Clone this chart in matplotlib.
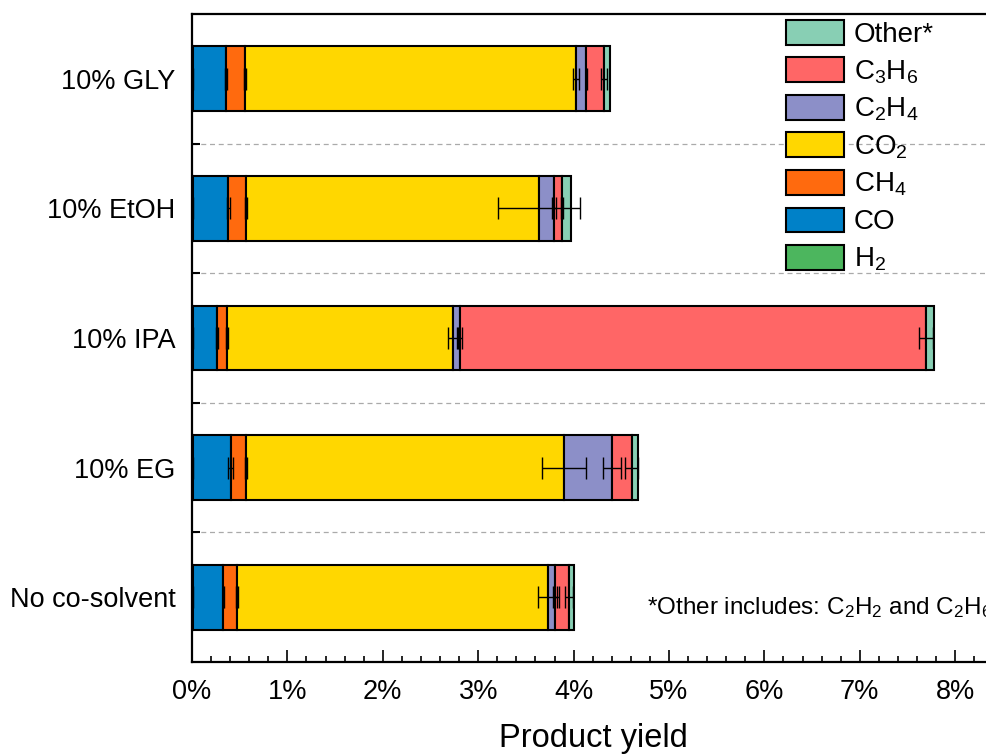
import matplotlib
matplotlib.use("Agg")
import matplotlib.pyplot as plt
import numpy as np
from matplotlib.ticker import FixedLocator, MultipleLocator, FuncFormatter

plt.rcParams['font.family'] = ['Liberation Sans', 'DejaVu Sans']
plt.rcParams['mathtext.fontset'] = 'custom'
plt.rcParams['mathtext.rm'] = 'Liberation Sans'
plt.rcParams['mathtext.it'] = 'Liberation Sans'
plt.rcParams['mathtext.default'] = 'regular'

# categories, top to bottom
categories = ["10% GLY", "10% EtOH", "10% IPA", "10% EG", "No co-solvent"]

# series (yield in %), stacked left to right
series_names = ["H$_2$", "CO", "CH$_4$", "CO$_2$", "C$_2$H$_4$", "C$_3$H$_6$", "Other*"]
H2 = [0.01, 0.01, 0.01, 0.01, 0.01]
CO = [0.345, 0.37, 0.25, 0.395, 0.32]
CH4 = [0.20, 0.186, 0.111, 0.161, 0.139]
CO2 = [3.47, 3.074, 2.361, 3.333, 3.265]
C2H4 = [0.11, 0.155, 0.077, 0.504, 0.071]
C3H6 = [0.18, 0.087, 4.884, 0.206, 0.15]
Other = [0.07, 0.088, 0.086, 0.069, 0.052]

# error (±) at the end of each stacked segment
H2_err = [0.005, 0.005, 0.005, 0.005, 0.005]
CO_err = [0.01, 0.015, 0.01, 0.025, 0.01]
CH4_err = [0.01, 0.015, 0.01, 0.01, 0.01]
CO2_err = [0.03, 0.43, 0.045, 0.23, 0.11]
C2H4_err = [0.01, 0.02, 0.02, 0.09, 0.02]
C3H6_err = [0.03, 0.01, 0.07, 0.065, 0.04]
Other_err = [0.0, 0.0, 0.0, 0.0, 0.0]

colors = ["#4CB65E", "#0081C8", "#FF6A0E", "#FFD700", "#8C8FC8", "#FF6666", "#88CFB4"]

values = [H2, CO, CH4, CO2, C2H4, C3H6, Other]
errors = [H2_err, CO_err, CH4_err, CO2_err, C2H4_err, C3H6_err, Other_err]

fig = plt.figure(figsize=(9.87, 7.56), dpi=100)
ax = fig.add_axes([192/987, 94/756, 9*95.4/987, 648/756])

y = np.arange(len(categories))
left = np.zeros(len(categories))
handles = []
for name, vals, errs, col in zip(series_names, values, errors, colors):
    vals = np.array(vals)
    h = ax.barh(y, vals, left=left, height=0.5, color=col, edgecolor='black',
                linewidth=1.5, label=name, zorder=2)
    handles.append(h)
    ends = left + vals
    errs = np.array(errs)
    mask = errs > 0
    ax.errorbar(ends[mask], y[mask], xerr=errs[mask], fmt='none', ecolor='black',
                elinewidth=1.0, capsize=8, capthick=1.0, zorder=3)
    left = ends

ax.set_xlim(0, 9)
ax.set_ylim(4.5, -0.5)

for b in [0.5, 1.5, 2.5, 3.5]:
    ax.axhline(b, color='#aaaaaa', linestyle=(0, (4, 3)), linewidth=0.9, zorder=1)

ax.set_yticks(y)
ax.set_yticklabels(categories, fontsize=19.5)
ax.yaxis.set_minor_locator(FixedLocator([0.5, 1.5, 2.5, 3.5]))
ax.tick_params(axis='y', which='major', length=0, pad=12)
ax.tick_params(axis='y', which='minor', direction='in', length=6, width=1.5)

ax.xaxis.set_major_locator(MultipleLocator(1))
ax.xaxis.set_minor_locator(MultipleLocator(0.2))
ax.xaxis.set_major_formatter(FuncFormatter(lambda v, p: f"{int(round(v))}%" if v < 8.5 else ""))
ax.tick_params(axis='x', which='major', direction='in', length=9, width=1.2,
               labelsize=19.5, pad=12)
ax.tick_params(axis='x', which='minor', direction='in', length=4, width=1.2)

for s in ['left', 'bottom', 'top', 'right']:
    ax.spines[s].set_linewidth(1.6)

fig.text(593/987, 1 - 738/756, "Product yield", fontsize=23.5, ha='center', va='center')
fig.text(647/987, 1 - 608/756, "*Other includes: C$_2$H$_2$ and C$_2$H$_6$",
         fontsize=17.5, ha='left', va='center')

leg = ax.legend(handles[::-1], series_names[::-1], loc='upper left',
                bbox_to_anchor=(786/987, 1 - 20/756), bbox_transform=fig.transFigure,
                frameon=False, fontsize=20, handlelength=2.1, handleheight=1.0,
                handletextpad=0.35, labelspacing=0.33, borderpad=0, borderaxespad=0)

fig.savefig("out.png", dpi=100)
